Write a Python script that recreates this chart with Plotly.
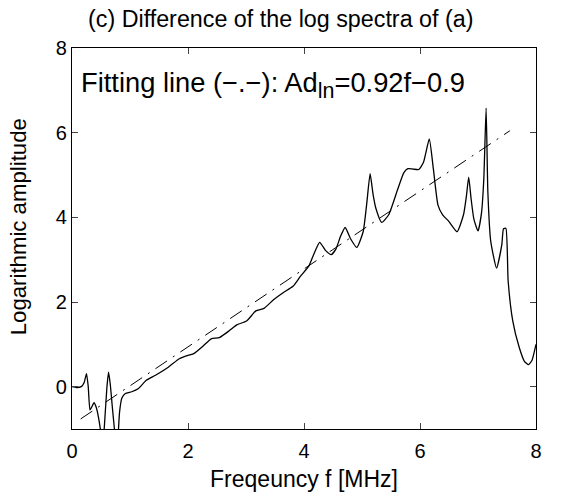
import plotly.graph_objects as go

freq = [0.00, 0.08, 0.16, 0.21, 0.25, 0.28, 0.31, 0.34, 0.38, 0.42, 0.46, 0.50, 0.53, 0.56, 0.60,
        0.63, 0.66, 0.70, 0.74, 0.78, 0.82, 0.86, 0.92, 1.03, 1.14, 1.28, 1.44, 1.66, 1.85, 2.00,
        2.10, 2.27, 2.40, 2.54, 2.71, 2.84, 3.01, 3.17, 3.31, 3.48, 3.64, 3.81, 3.94, 4.08, 4.16,
        4.27, 4.37, 4.47, 4.55, 4.63, 4.71, 4.80, 4.91, 5.02, 5.08, 5.14, 5.19, 5.24, 5.34, 5.46,
        5.62, 5.72, 5.79, 5.88, 5.98, 6.06, 6.16, 6.23, 6.31, 6.39, 6.50, 6.64, 6.75, 6.80, 6.84,
        6.88, 6.93, 7.00, 7.06, 7.10, 7.14, 7.17, 7.22, 7.32, 7.41, 7.44, 7.48, 7.52, 7.60, 7.71,
        7.80, 7.87, 7.93, 8.00]
log_diff = [0.00, -0.02, 0.00, 0.10, 0.31, 0.00, -0.55, -0.48, -0.38, -0.50, -0.75, -1.10, -1.35, -0.90, -0.05,
            0.34, 0.05, -0.55, -1.10, -1.40, -0.60, -0.27, -0.16, -0.12, -0.05, 0.15, 0.27, 0.46, 0.66, 0.74,
            0.78, 0.97, 1.13, 1.16, 1.32, 1.46, 1.55, 1.79, 1.85, 2.06, 2.22, 2.37, 2.61, 2.84, 3.10,
            3.41, 3.22, 3.12, 3.25, 3.55, 3.76, 3.50, 3.29, 3.66, 4.30, 5.03, 4.55, 4.21, 3.88, 4.06,
            4.68, 5.05, 5.15, 5.14, 5.13, 5.30, 5.85, 5.15, 4.29, 4.06, 3.90, 3.66, 4.06, 4.50, 4.95,
            4.45, 3.95, 3.68, 4.10, 4.90, 6.58, 4.60, 3.43, 2.80, 3.35, 3.73, 3.74, 2.49, 1.55, 0.93,
            0.60, 0.52, 0.62, 1.00]

fit_slope = 0.92
fit_intercept = -0.9
fit_f = [0.15, 7.55]
fit_y = [fit_slope * f + fit_intercept for f in fit_f]

x_ticks = [0, 2, 4, 6, 8]
y_ticks = [0, 2, 4, 6, 8]

FONT = "Liberation Sans, Arial, sans-serif"
W, H = 562, 499
L, R, T, B = 72, 26, 48, 62
pw, ph = W - L - R, H - T - B


def px_x(px):
    return (px - L) / pw


def px_y(py):
    return (H - B - py) / ph


fig = go.Figure()
fig.add_trace(go.Scatter(x=freq, y=log_diff, mode="lines",
                         line=dict(color="black", width=1.3, shape="spline", smoothing=0.5),
                         showlegend=False))
fig.add_trace(go.Scatter(x=fit_f, y=fit_y, mode="lines",
                         line=dict(color="black", width=1, dash="14px,7px,2px,7px"),
                         showlegend=False))

fig.add_annotation(x=0.12, y=7.13, xref="x", yref="y", xanchor="left", yanchor="middle",
                   text="Fitting line (\u2212.\u2212): Ad<sub><span style='font-size:21.5px'>ln</span></sub>=0.92f\u22120.9",
                   showarrow=False, font=dict(family=FONT, size=27.3, color="black"))

fig.add_annotation(x=px_x(280), y=px_y(18), xref="paper", yref="paper", showarrow=False,
                   xanchor="center", yanchor="middle",
                   text="(c) Difference of the log spectra of (a)",
                   font=dict(family=FONT, size=23.3, color="black"))

fig.add_annotation(x=px_x(18), y=px_y(231), xref="paper", yref="paper", showarrow=False,
                   xanchor="center", yanchor="middle", textangle=-90,
                   text="Logarithmic amplitude",
                   font=dict(family=FONT, size=22.2, color="black"))

fig.update_layout(
    width=W, height=H,
    margin=dict(l=L, r=R, t=T, b=B),
    paper_bgcolor="white", plot_bgcolor="white",
    font=dict(family=FONT, size=20, color="black"),
    xaxis=dict(range=[0, 8], tickvals=x_ticks, ticks="inside", ticklen=6, tickwidth=1,
               showline=True, linecolor="black", linewidth=1.2, mirror="ticks",
               showgrid=False, zeroline=False, ticklabelstandoff=4,
               title=dict(text="Freqeuncy f [MHz]", standoff=9, font=dict(size=23))),
    yaxis=dict(range=[-1, 8], tickvals=y_ticks, ticks="inside", ticklen=6, tickwidth=1,
               showline=True, linecolor="black", linewidth=1.2, mirror="ticks",
               showgrid=False, zeroline=False),
)

fig.write_html("out.html")
